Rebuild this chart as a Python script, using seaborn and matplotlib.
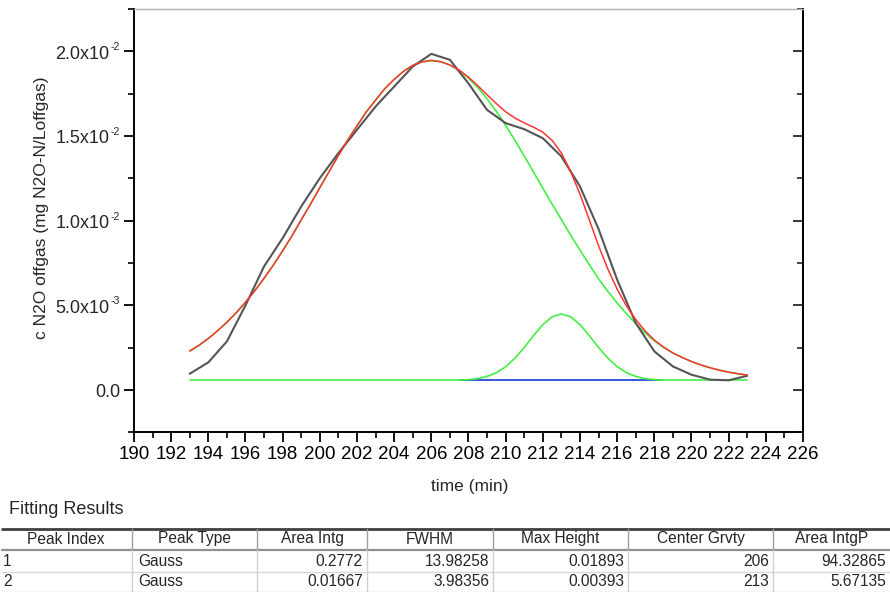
import numpy as np
import pandas as pd
import matplotlib
matplotlib.use("Agg")
import matplotlib.pyplot as plt
import seaborn as sns
from matplotlib.lines import Line2D
from matplotlib.ticker import MultipleLocator, FixedLocator

# ---------------- data ----------------
# measured N2O off-gas concentration (1 min sampling)
time_min = [193, 194, 195, 196, 197, 198, 199, 200, 201, 202, 203, 204, 205, 206, 207,
            208, 209, 210, 211, 212, 213, 214, 215, 216, 217, 218, 219, 220, 221, 222, 223]
n2o_measured = [0.00096, 0.00163, 0.00287, 0.00500, 0.00730, 0.00897, 0.01084, 0.01251,
                0.01399, 0.01537, 0.01674, 0.01792, 0.01910, 0.01985, 0.01950, 0.01810,
                0.01654, 0.01576, 0.01540, 0.01487, 0.01379, 0.01202, 0.00950, 0.00651,
                0.00395, 0.00228, 0.00139, 0.00090, 0.00061, 0.00057, 0.00084]

# fitted curves read every 0.5 min
time_fit = np.arange(193, 223.01, 0.5)
n2o_peak1 = [0.00230, 0.00264, 0.00304, 0.00350, 0.00400, 0.00456, 0.00518, 0.00586,
             0.00660, 0.00738, 0.00822, 0.00910, 0.01005, 0.01098, 0.01195, 0.01290,
             0.01385, 0.01476, 0.01560, 0.01642, 0.01712, 0.01780, 0.01834, 0.01882,
             0.01917, 0.01938, 0.01946, 0.01939, 0.01919, 0.01887, 0.01842, 0.01786,
             0.01719, 0.01645, 0.01562, 0.01474, 0.01382, 0.01287, 0.01192, 0.01098,
             0.01006, 0.00914, 0.00826, 0.00740, 0.00656, 0.00582, 0.00514, 0.00450,
             0.00392, 0.00338, 0.00290, 0.00251, 0.00218, 0.00192, 0.00168, 0.00148,
             0.00131, 0.00117, 0.00105, 0.00096, 0.00088]
n2o_fit_total = [0.00230, 0.00264, 0.00304, 0.00350, 0.00400, 0.00456, 0.00518, 0.00586,
                 0.00660, 0.00738, 0.00822, 0.00910, 0.01005, 0.01098, 0.01195, 0.01290,
                 0.01385, 0.01476, 0.01560, 0.01642, 0.01712, 0.01780, 0.01834, 0.01882,
                 0.01917, 0.01938, 0.01946, 0.01939, 0.01919, 0.01889, 0.01847, 0.01797,
                 0.01743, 0.01691, 0.01643, 0.01606, 0.01577, 0.01552, 0.01522, 0.01474,
                 0.01399, 0.01290, 0.01156, 0.01005, 0.00851, 0.00714, 0.00595, 0.00496,
                 0.00416, 0.00349, 0.00295, 0.00253, 0.00218, 0.00192, 0.00168, 0.00148,
                 0.00131, 0.00117, 0.00105, 0.00096, 0.00088]
time_peak2 = [207.5, 208, 208.5, 209, 209.5, 210, 210.5, 211, 211.5, 212, 212.5, 213,
              213.5, 214, 214.5, 215, 215.5, 216, 216.5, 217, 217.5, 218, 218.5]
n2o_peak2 = [0.00058, 0.00061, 0.00067, 0.00080, 0.00102, 0.00137, 0.00188, 0.00251,
             0.00321, 0.00386, 0.00432, 0.00449, 0.00432, 0.00386, 0.00321, 0.00251,
             0.00188, 0.00137, 0.00102, 0.00080, 0.00067, 0.00061, 0.00058]
baseline_level = 0.00056
baseline_time = [193, 223]
peak2_base_time = [207.6, 218.3]

xtick_values = list(range(190, 227, 2))
ytick_values = [0.0, 0.005, 0.010, 0.015, 0.020]
ytick_mantissa = ["0.0", "5.0x10", "1.0x10", "1.5x10", "2.0x10"]
ytick_exponent = ["", "-3", "-2", "-2", "-2"]

table_title = "Fitting Results"
table_columns = ["Peak Index", "Peak Type", "Area Intg", "FWHM", "Max Height", "Center Grvty", "Area IntgP"]
table_rows = [
    ["1", "Gauss", "0.2772", "13.98258", "0.01893", "206", "94.32865"],
    ["2", "Gauss", "0.01667", "3.98356", "0.00393", "213", "5.67135"],
]

# ---------------- style ----------------
sns.set_style("ticks")
plt.rcParams['font.family'] = ['Liberation Sans', 'DejaVu Sans']

W, H = 890, 592
fig = plt.figure(figsize=(W / 100, H / 100), dpi=100)
fig.patch.set_facecolor('white')
ax = fig.add_axes([134 / W, 1 - 432.3 / H, (803 - 134) / W, (432.3 - 9) / H])

df_meas = pd.DataFrame({"t": time_min, "c": n2o_measured})
df_fit = pd.DataFrame({"t": time_fit, "c": n2o_fit_total})
df_p1 = pd.DataFrame({"t": time_fit, "c": n2o_peak1})
df_p2 = pd.DataFrame({"t": time_peak2, "c": n2o_peak2})
df_base = pd.DataFrame({"t": baseline_time, "c": [baseline_level] * len(baseline_time)})
df_base2 = pd.DataFrame({"t": peak2_base_time, "c": [baseline_level] * len(peak2_base_time)})

green = "#45ee45"
sns.lineplot(data=df_base, x="t", y="c", ax=ax, color=green, lw=1.2, estimator=None, sort=False)
sns.lineplot(data=df_base2, x="t", y="c", ax=ax, color="#3030ff", lw=1.1, estimator=None, sort=False)
sns.lineplot(data=df_p1, x="t", y="c", ax=ax, color=green, lw=1.2, estimator=None, sort=False)
sns.lineplot(data=df_p2, x="t", y="c", ax=ax, color=green, lw=1.2, estimator=None, sort=False)
sns.lineplot(data=df_meas, x="t", y="c", ax=ax, color="#555555", lw=1.5, estimator=None, sort=False)
sns.lineplot(data=df_fit, x="t", y="c", ax=ax, color="#ff3333", lw=1.1, estimator=None, sort=False)

ax.set_xlim(190, 226)
ax.set_ylim(-0.0025, 0.0225)
ax.xaxis.set_major_locator(FixedLocator(xtick_values))
ax.xaxis.set_minor_locator(MultipleLocator(1))
ax.yaxis.set_major_locator(FixedLocator(ytick_values))
ax.yaxis.set_minor_locator(MultipleLocator(0.0025))

ax.tick_params(axis='both', which='major', direction='out', length=7, width=1.3,
               labelsize=13.5, colors='black', pad=3)
ax.tick_params(axis='both', which='minor', direction='out', length=4, width=1.2, colors='black')
ax.tick_params(axis='y', right=False, left=True, labelleft=False, which='both')
ax.tick_params(axis='x', top=False, which='both')

# y tick labels with superscript exponents
ytrans = ax.get_yaxis_transform()
for val, man, ex in zip(ytick_values, ytick_mantissa, ytick_exponent):
    if ex:
        ax.annotate(man, xy=(0, val), xycoords=ytrans, xytext=(-24.5, -7.3),
                    textcoords='offset pixels', ha='right', va='baseline', fontsize=13,
                    annotation_clip=False)
        ax.annotate(ex, xy=(0, val), xycoords=ytrans, xytext=(-14, 1.0),
                    textcoords='offset pixels', ha='right', va='baseline', fontsize=7.6,
                    annotation_clip=False)
    else:
        ax.annotate(man, xy=(0, val), xycoords=ytrans, xytext=(-14, -7.3),
                    textcoords='offset pixels', ha='right', va='baseline', fontsize=13,
                    annotation_clip=False)

for s in ['left', 'bottom', 'right']:
    ax.spines[s].set_color('black')
    ax.spines[s].set_linewidth(1.4)
ax.spines['top'].set_color('#b0b0b0')
ax.spines['top'].set_linewidth(1.0)

sec = ax.secondary_yaxis('right')
sec.yaxis.set_major_locator(FixedLocator(ytick_values))
sec.yaxis.set_minor_locator(MultipleLocator(0.0025))
sec.tick_params(axis='y', which='major', direction='in', length=7, width=1.3, labelright=False)
sec.tick_params(axis='y', which='minor', direction='in', length=4, width=1.2)
sec.spines['right'].set_linewidth(1.4)

ax.set_xlabel("time (min)", fontsize=12.5)
ax.set_ylabel("c N2O offgas (mg N2O-N/Loffgas)", fontsize=12.5)
ax.xaxis.set_label_coords((470 - 134) / 669, (432.3 - 487) / 423.3)
ax.xaxis.label.set(va='center', ha='center')
ax.yaxis.set_label_coords((41.5 - 134) / 669, (432.3 - 208) / 423.3)
ax.yaxis.label.set(va='center', ha='center', rotation_mode='default')

# ---------------- table ----------------
def fx(x):
    return x / W

def fy(y):
    return 1 - y / H

fig.text(fx(9), fy(510), table_title, fontsize=13, ha='left', va='center')

col_edges = [0, 132, 257, 367, 493, 628, 773, 890]
y_top, y_head, y_r1, y_r2 = 528.5, 539, 561.5, 581.5
y_headline, y_sep1, y_sep2 = 549.8, 571.5, 591.5

def hline(y, color, lw, x0=2, x1=890):
    fig.add_artist(Line2D([fx(x0), fx(x1)], [fy(y), fy(y)], transform=fig.transFigure,
                          color=color, lw=lw))

def vline(x, y0, y1, color, lw):
    fig.add_artist(Line2D([fx(x), fx(x)], [fy(y0), fy(y1)], transform=fig.transFigure,
                          color=color, lw=lw))

hline(y_top, '#404040', 2.0)
hline(y_headline, '#909090', 1.6)
hline(y_sep1, '#d8d8d8', 1.0)
hline(y_sep2, '#d8d8d8', 1.0)
for x in col_edges[1:-1]:
    vline(x, y_top, y_headline, '#a0a0a0', 1.0)
    vline(x, y_headline, 592, '#d0d0d0', 1.0)

for i, name in enumerate(table_columns):
    xc = (col_edges[i] + col_edges[i + 1]) / 2
    fig.text(fx(xc), fy(y_head), name, fontsize=11.2, ha='center', va='center')

for row, yy in zip(table_rows, [y_r1, y_r2]):
    for i, val in enumerate(row):
        if i == 0:
            fig.text(fx(3), fy(yy), val, fontsize=11.2, ha='left', va='center')
        elif i == 1:
            fig.text(fx(col_edges[1] + 6), fy(yy), val, fontsize=11.2, ha='left', va='center')
        else:
            fig.text(fx(col_edges[i + 1] - 4), fy(yy), val, fontsize=11.2, ha='right', va='center')

fig.savefig("out.png", dpi=100, facecolor='white')
